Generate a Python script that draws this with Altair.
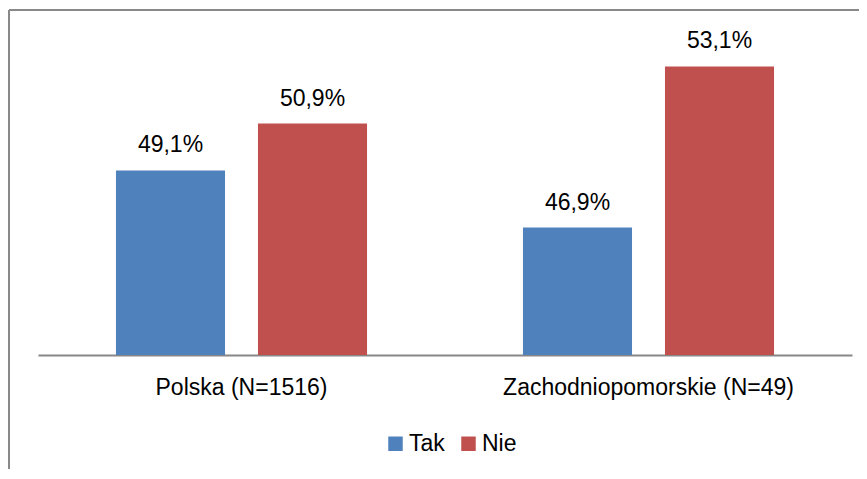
import altair as alt
import pandas as pd

categories = ["Polska (N=1516)", "Zachodniopomorskie (N=49)"]
series = ["Tak", "Nie"]
tak_values = [49.1, 46.9]
nie_values = [50.9, 53.1]
colors = ["#4F81BD", "#C0504D"]

rows = []
for i, c in enumerate(categories):
    for s, vals in zip(series, [tak_values, nie_values]):
        v = vals[i]
        rows.append({"cat": c, "series": s, "value": v,
                     "label": f"{v:.1f}%".replace(".", ",")})
df = pd.DataFrame(rows)

FONT = "Liberation Sans"

base = alt.Chart(df).encode(
    x=alt.X("cat:N", sort=categories, title=None,
            scale=alt.Scale(paddingInner=0, paddingOuter=0),
            axis=alt.Axis(labelAngle=0, ticks=False, tickSize=0, labelPadding=21,
                          labelLimit=0,
                          labelFontSize=23, labelFont=FONT, labelColor="#000000",
                          domainColor="#878787", domainWidth=2, grid=False)),
    xOffset=alt.XOffset("series:N", sort=series,
                        scale=alt.Scale(paddingInner=0.232, paddingOuter=0.549)),
    y=alt.Y("value:Q", scale=alt.Scale(domain=[42, 55], zero=False, clamp=False),
            axis=None),
)

bars = base.mark_bar(clip=True).encode(
    y2=alt.datum(42),
    color=alt.Color("series:N", sort=series,
                    scale=alt.Scale(domain=series, range=colors),
                    legend=alt.Legend(title=None, orient="none", direction="horizontal",
                                      legendX=346, legendY=415,
                                      symbolType="square", symbolSize=210,
                                      symbolStrokeWidth=0, labelOffset=2,
                                      columnPadding=12,
                                      labelFontSize=23, labelFont=FONT,
                                      labelColor="#000000")),
)

labels = base.mark_text(baseline="alphabetic", dy=-18, fontSize=23, font=FONT,
                        color="#000000").encode(text="label:N")

frame_left = alt.Chart(df).mark_rule(color="#898989", strokeWidth=2).encode(
    x=alt.value(-29), y=alt.value(-7), y2=alt.value(500))
frame_top = alt.Chart(df).mark_rule(color="#898989", strokeWidth=2).encode(
    x=alt.value(-29), x2=alt.value(900), y=alt.value(-7))

chart = alt.layer(frame_left, frame_top, bars, labels).properties(
    width=814, height=338,
    autosize=alt.AutoSizeParams(type="none"),
    padding={"left": 30, "top": 9, "right": 7, "bottom": 114},
).configure_view(stroke=None)

chart.save("out.html", embed_options={"renderer": "svg", "actions": False})
